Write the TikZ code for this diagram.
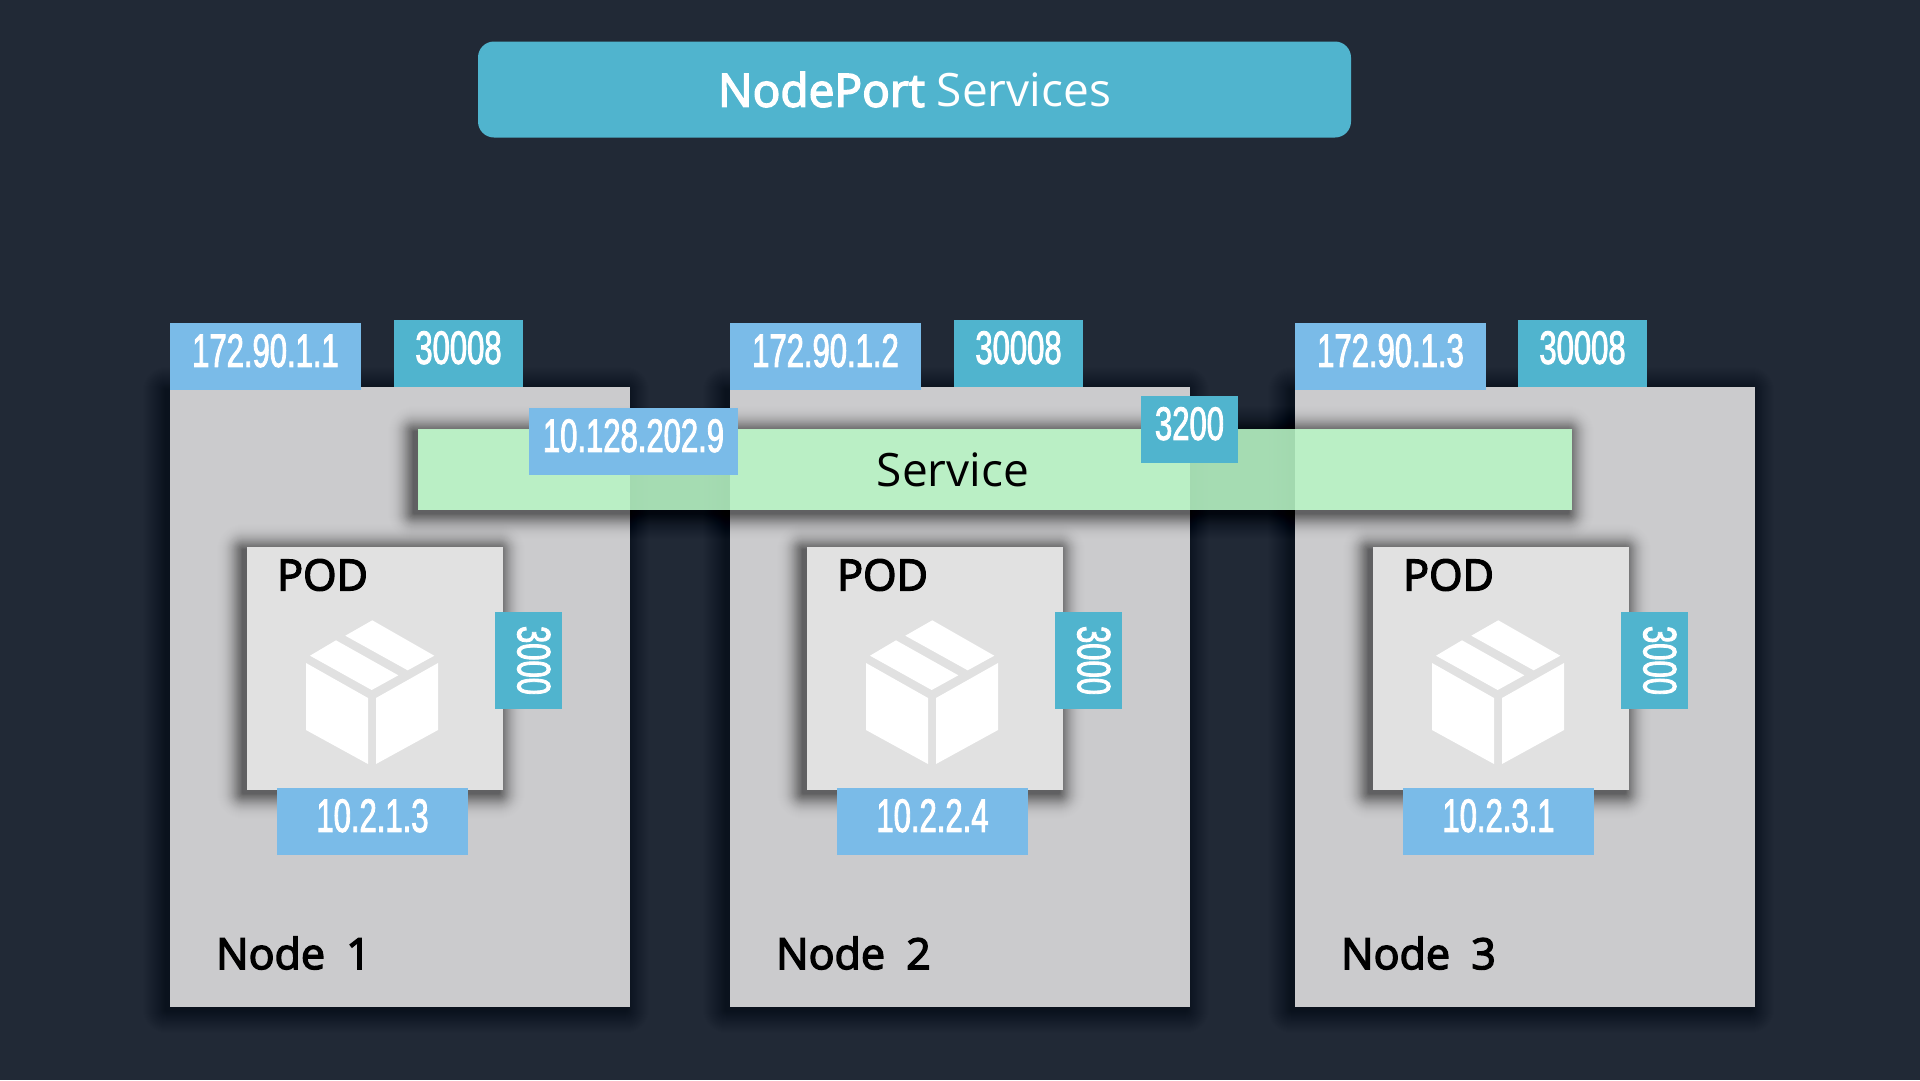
\documentclass[tikz,border=0pt]{standalone}
\usepackage{fontspec}
\setmainfont{Open Sans}
\newfontfamily\condf[FakeStretch=0.66,FakeBold=1.8]{Liberation Sans}
\newfontfamily\semif[FakeBold=3.2]{Open Sans}
\definecolor{bgc}{HTML}{212936}
\definecolor{nodec}{HTML}{CBCBCD}
\definecolor{podc}{HTML}{E1E1E1}
\definecolor{svcc}{RGB}{184,245,196}
\definecolor{ipc}{HTML}{7ABBE8}
\definecolor{tealc}{HTML}{50B4CE}
\tikzset{
  box/.style={anchor=north west,inner sep=0pt,outer sep=0pt,draw=none},
  nodebox/.style={box,fill=nodec,minimum width=460pt,minimum height=620pt},
  podbox/.style={box,fill=podc,minimum width=256pt,minimum height=243pt},
  ipbox/.style={box,fill=ipc,text=white,minimum width=191pt,minimum height=67pt,font=\condf\fontsize{47}{47}\selectfont},
  portbox/.style={box,fill=tealc,text=white,minimum width=129pt,minimum height=67pt,font=\condf\fontsize{47}{47}\selectfont},
  plain/.style={anchor=west,inner sep=0pt,text=black},
}
\usetikzlibrary{calc}
% #1 strength, #2 #3 #4 #5 box corners
\newcommand{\softshadow}[5]{%
  \foreach \s in {1,...,32}{
    \pgfmathsetmacro\shadeop{#1*exp(-(\s*\s)/220)}
    \fill[black,opacity=\shadeop,rounded corners=\s pt]
      ($(#2,#3)+(-4-\s,3-\s)$) rectangle ($(#4,#5)+(-4+\s,3+\s)$);
  }}
\newcommand{\lift}[1]{\raisebox{12pt}{#1}}
\begin{document}
\begin{tikzpicture}[x=1pt,y=-1pt]
\fill[bgc] (0,0) rectangle (1920,1080);
\useasboundingbox (0,0) rectangle (1920,1080);
% title
\node[fill=tealc,rounded corners=16pt,minimum width=873pt,minimum height=96pt,inner sep=0pt,text=white,
  font=\fontsize{46}{46}\selectfont] (title) at (914.5,89.5) {{\semif NodePort} Services};
% worker nodes
\foreach \i/\x/\px/\ia/\ib in {1/170/247/172.90.1.1/10.2.1.3,2/730/807/172.90.1.2/10.2.2.4,3/1295/1373/172.90.1.3/10.2.3.1}{
  \softshadow{0.022}{\x}{387}{\x+460}{1007}
  \node[nodebox] (n\i) at (\x,387) {};
  \node[plain,font=\semif\fontsize{43}{43}\selectfont] (nl\i) at (\x+46,953) {Node\hspace{10pt} \i};
  \softshadow{0.05}{\px}{547}{\px+256}{790}
  \node[podbox] (p\i) at (\px,547) {};
  \node[plain,font=\semif\fontsize{43}{43}\selectfont] (pl\i) at (\px+30,575) {POD};
  \begin{scope}[shift={(\px,547)}]
    \fill[white] (125.3,73.3) -- (187.3,108.7) -- (160.7,123.3) -- (98.3,88.7) -- cycle;
    \fill[white] (89,93.3) -- (151.3,128.3) -- (124.7,143) -- (63,108.7) -- cycle;
    \fill[white] (59,116) -- (121,151) -- (121,217) -- (59,183) -- cycle;
    \fill[white] (129,151) -- (191,116) -- (191,183) -- (129,217) -- cycle;
  \end{scope}
  \node[portbox,anchor=center,minimum width=97pt,minimum height=67pt,rotate=-90] (pp\i) at (\px+281,660.5) {\lift{3000}};
  \node[ipbox] (pi\i) at (\px+30,788) {\lift{\ib}};
  \node[ipbox] (ia\i) at (\x,323) {\lift{\ia}};
}
\node[portbox] (np1) at (394,320) {\lift{30008}};
\node[portbox] (np2) at (954,320) {\lift{30008}};
\node[portbox] (np3) at (1518,320) {\lift{30008}};
% service
\begin{scope}[even odd rule]
  \clip (0,0) rectangle (1920,1080) (418,429) rectangle (1572,510);
  \softshadow{0.05}{418}{429}{1572}{510}
\end{scope}
\node[box,fill=svcc,fill opacity=0.88,minimum width=1154pt,minimum height=81pt] (svc) at (418,429) {};
\node[inner sep=0pt,text=black,font=\fontsize{46}{46}\selectfont] (svct) at (953,469.5) {Service};
\node[ipbox,minimum width=209pt] (svcip) at (529,408) {\lift{10.128.202.9}};
\node[portbox,minimum width=97pt] (svcport) at (1141,396) {\lift{3200}};
\end{tikzpicture}
\end{document}
